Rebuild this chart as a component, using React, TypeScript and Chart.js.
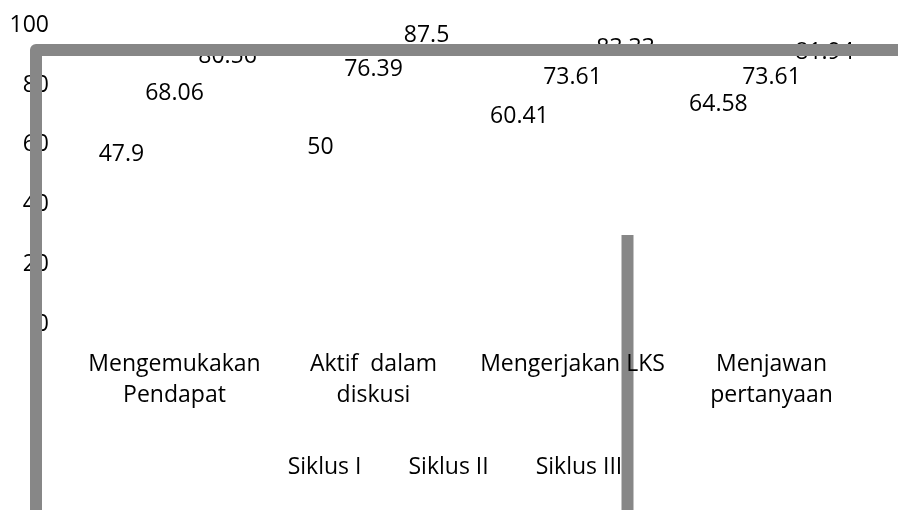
import { useEffect, useRef } from "react";
import { Chart, registerables } from "chart.js";

Chart.register(...registerables);

const categories: string[][] = [
  ["Mengemukakan", "Pendapat"],
  ["Aktif  dalam", "diskusi"],
  ["Mengerjakan LKS"],
  ["Menjawan", "pertanyaan"],
];
const seriesNames = ["Siklus I", "Siklus II", "Siklus III"];
const siklus1 = [47.9, 50, 60.41, 64.58];
const siklus2 = [68.06, 76.39, 73.61, 73.61];
const siklus3 = [80.56, 87.5, 83.33, 81.94];
const yMin = 0;
const yMax = 100;
const yStep = 20;

const FONT_FAMILY = "'Open Sans', sans-serif";
const FONT_SIZE = 23;
const GRAY = "#878787";

const labelPlugin = {
  id: "valueLabels",
  afterDatasetsDraw(chart: any) {
    const ctx = chart.ctx;
    ctx.save();
    ctx.fillStyle = "#000";
    ctx.font = `${FONT_SIZE}px ${FONT_FAMILY}`;
    ctx.textAlign = "center";
    ctx.textBaseline = "middle";
    chart.data.datasets.forEach((ds: any, di: number) => {
      const meta = chart.getDatasetMeta(di);
      meta.data.forEach((el: any, i: number) => {
        ctx.fillText(String(ds.data[i]), el.x, el.y - 27);
      });
    });
    ctx.restore();
  },
};

const framePlugin = {
  id: "grayFrame",
  beforeDraw(chart: any) {
    const ctx = chart.ctx;
    ctx.save();
    ctx.strokeStyle = GRAY;
    ctx.lineWidth = 12;
    ctx.beginPath();
    ctx.moveTo(627.5, 235);
    ctx.lineTo(627.5, chart.height + 10);
    ctx.stroke();
    ctx.restore();
  },
  afterDraw(chart: any) {
    const ctx = chart.ctx;
    ctx.save();
    ctx.strokeStyle = GRAY;
    ctx.lineWidth = 12;
    ctx.lineJoin = "round";
    ctx.beginPath();
    ctx.moveTo(36, chart.height + 10);
    ctx.lineTo(36, 50);
    ctx.lineTo(chart.width + 10, 50);
    ctx.stroke();
    ctx.restore();
  },
};

export default function App() {
  const ref = useRef<HTMLCanvasElement | null>(null);
  useEffect(() => {
    if (!ref.current) return;
    const colors = ["rgba(255,255,255,0)", "rgba(255,255,255,0)", "rgba(255,255,255,0)"];
    const chart = new Chart(ref.current, {
      type: "bar",
      data: {
        labels: categories,
        datasets: [siklus1, siklus2, siklus3].map((d, i) => ({
          label: seriesNames[i],
          data: d,
          backgroundColor: colors[i],
          borderWidth: 0,
        })),
      },
      options: {
        responsive: true,
        maintainAspectRatio: false,
        animation: false,
        layout: { padding: { top: 25.5, right: 27, bottom: 21, left: 0 } },
        plugins: {
          legend: {
            position: "bottom",
            labels: {
              color: "#000",
              font: { family: FONT_FAMILY, size: FONT_SIZE },
              boxWidth: 27.5,
              padding: 8,
            },
          },
          tooltip: { enabled: false },
        },
        scales: {
          x: {
            grid: { display: false, drawTicks: false },
            border: { display: false },
            ticks: {
              color: "#000",
              padding: 24.5,
              maxRotation: 0,
              autoSkip: false,
              font: { family: FONT_FAMILY, size: FONT_SIZE, lineHeight: 31 / FONT_SIZE },
            },
            afterFit(scale: any) {
              scale.height = 124;
            },
          },
          y: {
            min: yMin,
            max: yMax,
            grid: { display: false, drawTicks: false },
            border: { display: false },
            ticks: {
              stepSize: yStep,
              color: "#000",
              padding: 26,
              font: { family: FONT_FAMILY, size: FONT_SIZE },
            },
            afterFit(scale: any) {
              scale.width = 75;
              scale.paddingTop = 0;
              scale.paddingBottom = 0;
            },
          },
        },
      },
      plugins: [labelPlugin, framePlugin],
    });
    return () => chart.destroy();
  }, []);
  return (
    <div style={{ position: "fixed", left: 0, top: 0, width: 898, height: 510, background: "#fff" }}>
      <canvas ref={ref} />
    </div>
  );
}
